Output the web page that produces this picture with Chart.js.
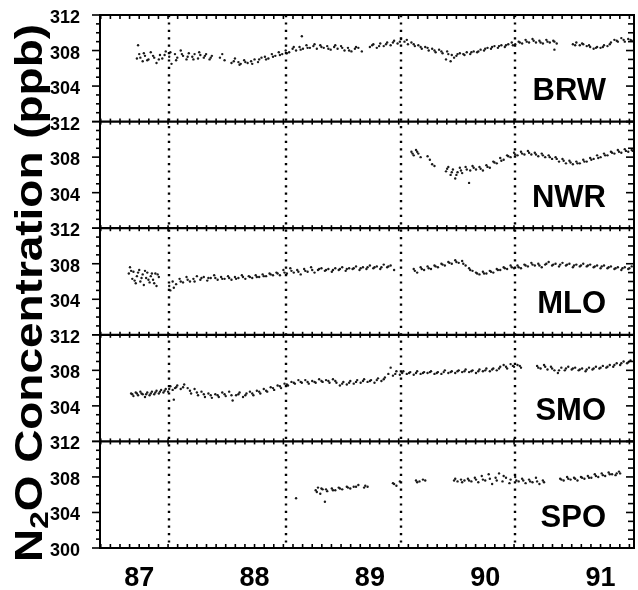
<!DOCTYPE html>
<html>
<head>
<meta charset="utf-8">
<script src="https://cdn.jsdelivr.net/npm/chart.js@4"></script>
<style>
  html, body { margin: 0; padding: 0; background: #fff; }
  canvas { display: block; }
</style>
</head>
<body>
<canvas id="n2oChart" width="638" height="590"></canvas>
<script>
// station names, top to bottom
const stations = ['BRW', 'NWR', 'MLO', 'SMO', 'SPO'];
const yearTicks = [87, 88, 89, 90, 91];
const ppbTicks = [300, 304, 308, 312];
const breakYears = [87.26, 88.27, 89.27, 90.26];

// [year, ppb]
const brw = [
  [86.98, 307.1], [86.99, 308.6], [87.00, 307.6], [87.03, 306.8], [87.05, 307.4], [87.08, 307.0], [87.10, 307.8],
  [87.13, 307.2], [87.15, 306.6], [87.18, 307.5], [87.20, 307.1], [87.23, 307.9], [87.26, 307.3], [87.28, 306.5],
  [87.31, 307.6], [87.33, 307.2], [87.36, 308.0], [87.38, 307.4], [87.41, 307.0], [87.43, 307.7], [87.46, 307.3],
  [87.48, 307.6], [87.51, 307.1], [87.53, 307.5], [87.56, 307.2], [87.58, 307.6], [87.61, 307.0], [87.63, 307.4],
  [87.70, 307.2], [87.72, 307.6], [87.74, 306.9],
  [87.80, 306.6], [87.83, 307.1], [87.86, 306.7], [87.88, 306.5], [87.91, 306.9], [87.94, 306.6], [87.97, 306.8],
  [88.00, 307.0], [88.03, 306.7], [88.06, 307.2], [88.09, 307.3], [88.12, 307.1], [88.15, 307.6], [88.18, 307.4],
  [88.21, 307.8], [88.24, 307.6], [88.27, 308.0], [88.30, 307.8], [88.33, 308.2], [88.36, 308.0], [88.39, 308.4],
  [88.41, 309.6], [88.42, 308.2], [88.45, 308.6], [88.48, 308.3], [88.51, 308.5], [88.54, 308.2], [88.57, 308.6],
  [88.60, 308.3], [88.63, 308.5], [88.66, 308.1], [88.69, 308.4], [88.72, 308.2], [88.75, 308.5], [88.78, 308.0],
  [88.81, 308.3], [88.84, 307.9], [88.87, 308.2], [88.90, 308.3], [88.93, 307.9],
  [89.00, 308.4], [89.03, 308.7], [89.06, 308.3], [89.09, 308.8], [89.12, 308.5], [89.15, 308.9], [89.18, 308.6],
  [89.21, 309.1], [89.24, 308.8], [89.27, 309.3], [89.30, 309.0], [89.33, 308.7], [89.36, 308.9], [89.39, 308.5],
  [89.42, 308.6], [89.45, 308.2], [89.48, 308.4], [89.51, 308.0], [89.54, 308.2], [89.57, 307.8], [89.60, 308.1],
  [89.63, 307.7], [89.66, 307.0], [89.67, 307.9], [89.70, 306.8], [89.71, 307.5], [89.73, 307.2], [89.75, 307.4],
  [89.78, 307.7], [89.81, 307.6], [89.84, 307.8], [89.87, 307.6], [89.90, 307.9], [89.93, 307.8], [89.96, 308.1],
  [89.99, 308.0], [90.02, 308.3], [90.05, 308.2], [90.08, 308.5], [90.11, 308.3], [90.14, 308.6], [90.17, 308.4],
  [90.20, 308.7], [90.23, 308.9], [90.26, 308.7], [90.29, 309.0], [90.32, 308.8], [90.35, 309.2], [90.38, 308.9],
  [90.41, 309.3], [90.44, 308.9], [90.47, 309.1], [90.50, 308.8], [90.53, 309.2], [90.56, 308.9], [90.59, 309.1],
  [90.60, 308.1], [90.62, 308.8],
  [90.76, 308.7], [90.79, 308.9], [90.82, 308.6], [90.85, 308.7], [90.88, 308.5], [90.91, 308.4], [90.94, 308.2],
  [90.97, 308.4], [91.00, 308.3], [91.03, 308.6], [91.06, 308.5], [91.09, 308.9], [91.12, 309.2], [91.15, 309.0],
  [91.18, 309.4], [91.21, 309.0], [91.24, 309.3], [91.27, 309.1],
  [87.01, 307.2], [87.04, 307.7], [87.07, 306.9], [87.12, 307.4], [87.17, 307.0], [87.22, 307.5], [87.27, 307.8],
  [87.32, 306.9], [87.37, 307.6], [87.42, 307.3], [87.47, 307.0], [87.52, 307.8], [87.57, 307.4], [87.62, 307.2],
  [87.82, 306.8], [87.87, 306.4], [87.92, 306.7], [87.98, 306.5], [88.04, 307.0], [88.10, 307.0], [88.16, 307.3],
  [88.22, 307.5], [88.28, 307.7], [88.34, 308.4], [88.40, 308.1], [88.46, 308.3], [88.52, 308.7], [88.58, 308.4],
  [88.64, 308.2], [88.70, 308.6], [88.76, 308.3], [88.82, 308.0], [88.88, 308.4],
  [89.02, 308.6], [89.08, 308.5], [89.14, 308.7], [89.20, 308.9], [89.26, 309.0], [89.32, 309.2], [89.38, 308.7],
  [89.44, 308.4], [89.50, 308.3], [89.56, 308.0], [89.62, 307.9], [89.68, 307.6], [89.76, 307.6], [89.82, 307.5],
  [89.88, 307.8], [89.94, 307.9], [90.00, 308.2], [90.06, 308.4], [90.12, 308.5], [90.18, 308.6], [90.24, 308.6],
  [90.30, 308.9], [90.36, 309.0], [90.42, 309.1], [90.48, 308.9], [90.54, 309.0], [90.60, 309.0],
  [90.78, 308.6], [90.84, 308.8], [90.90, 308.6], [90.96, 308.3], [91.02, 308.4], [91.08, 308.7], [91.14, 309.1],
  [91.20, 309.2], [91.26, 309.2]
];

const nwr = [
  [89.36, 308.6], [89.38, 308.2], [89.40, 308.8], [89.42, 308.4], [89.44, 308.0],
  [89.50, 308.1], [89.52, 307.7], [89.54, 307.2], [89.56, 307.0],
  [89.66, 306.4], [89.68, 306.9], [89.70, 306.0], [89.72, 306.6], [89.74, 305.6], [89.76, 306.3], [89.78, 306.8],
  [89.80, 306.2], [89.83, 306.9], [89.86, 305.1], [89.87, 306.5], [89.89, 307.0], [89.92, 306.6], [89.95, 306.9],
  [89.98, 306.5], [90.01, 307.1], [90.04, 306.8], [90.07, 307.5], [90.10, 307.3], [90.13, 307.9], [90.16, 307.7],
  [90.19, 308.2], [90.22, 308.0], [90.25, 308.5], [90.28, 308.2], [90.31, 308.6], [90.34, 308.3], [90.37, 308.7],
  [90.40, 308.3], [90.43, 308.5], [90.46, 308.1], [90.49, 308.4], [90.52, 308.0], [90.55, 308.2], [90.58, 307.8],
  [90.61, 308.0], [90.64, 307.5], [90.67, 307.8], [90.70, 307.3], [90.73, 307.6], [90.76, 307.2], [90.79, 307.5],
  [90.82, 307.3], [90.85, 307.7], [90.88, 307.5], [90.91, 307.9], [90.94, 307.8], [90.97, 308.2], [91.00, 308.0],
  [91.03, 308.4], [91.06, 308.2], [91.09, 308.6], [91.12, 308.4], [91.15, 308.8], [91.18, 308.5], [91.21, 308.9],
  [91.24, 308.6], [91.27, 308.8],
  [89.37, 308.4], [89.41, 308.6], [89.67, 306.7], [89.71, 306.3], [89.75, 306.0], [89.79, 306.5], [89.84, 306.6],
  [89.90, 306.8], [89.96, 306.7], [90.02, 306.9], [90.08, 307.4], [90.14, 307.6], [90.20, 308.1], [90.26, 308.3],
  [90.32, 308.4], [90.38, 308.5], [90.44, 308.3], [90.50, 308.2], [90.56, 308.0], [90.62, 307.8], [90.68, 307.6],
  [90.74, 307.4], [90.80, 307.3], [90.86, 307.5], [90.92, 307.7], [90.98, 307.9], [91.04, 308.2], [91.10, 308.5],
  [91.16, 308.6], [91.22, 308.7], [91.28, 308.7]
];

const mlo = [
  [86.91, 306.9], [86.92, 307.6], [86.94, 306.3], [86.95, 307.1], [86.97, 305.8], [86.98, 306.6], [87.00, 307.3],
  [87.01, 306.0], [87.03, 306.8], [87.04, 305.6], [87.06, 306.4], [87.07, 307.0], [87.09, 305.9], [87.10, 306.6],
  [87.12, 306.2], [87.14, 306.9], [87.15, 305.5], [87.17, 306.5],
  [87.26, 305.5], [87.27, 305.0], [87.29, 306.0], [87.32, 305.7], [87.35, 306.3], [87.38, 305.9], [87.41, 306.5],
  [87.44, 306.0], [87.47, 306.3], [87.50, 306.6], [87.53, 306.2], [87.56, 306.5], [87.59, 306.1], [87.62, 306.4],
  [87.65, 306.7], [87.68, 306.2], [87.71, 306.5], [87.74, 306.3], [87.77, 306.6], [87.80, 306.2], [87.83, 306.5],
  [87.86, 306.4], [87.89, 306.7], [87.92, 306.3], [87.95, 306.6], [87.98, 306.4], [88.01, 306.7], [88.04, 306.5],
  [88.07, 306.8], [88.10, 306.6], [88.13, 306.9], [88.16, 306.7], [88.19, 307.0], [88.22, 306.7], [88.25, 307.3],
  [88.28, 306.9], [88.31, 307.5], [88.34, 307.0], [88.37, 307.3], [88.40, 306.8], [88.43, 307.4], [88.46, 307.1],
  [88.49, 307.6], [88.52, 307.0], [88.55, 307.3], [88.58, 307.5], [88.61, 307.2], [88.64, 307.4], [88.67, 307.1],
  [88.70, 307.5], [88.73, 307.3], [88.76, 307.6], [88.79, 307.2], [88.82, 307.5], [88.85, 307.4], [88.88, 307.7],
  [88.91, 307.3], [88.94, 307.6], [88.97, 307.4], [89.00, 307.8], [89.03, 307.5], [89.06, 307.7], [89.09, 307.4],
  [89.12, 307.9], [89.15, 307.6], [89.18, 307.8], [89.21, 307.3],
  [89.38, 307.4], [89.41, 307.0], [89.44, 307.6], [89.47, 307.3], [89.50, 307.7], [89.53, 307.4], [89.56, 307.8],
  [89.59, 307.6], [89.62, 308.0], [89.65, 307.8], [89.68, 308.2], [89.71, 308.0], [89.74, 308.4], [89.77, 308.1],
  [89.80, 308.3], [89.83, 307.8], [89.86, 307.5], [89.89, 307.2], [89.92, 307.0], [89.95, 306.8], [89.98, 307.1],
  [90.01, 306.9], [90.04, 307.2], [90.07, 307.0], [90.10, 307.4], [90.13, 307.3], [90.16, 307.6], [90.19, 307.4],
  [90.22, 307.8], [90.25, 307.5], [90.28, 307.8], [90.31, 307.5], [90.34, 307.9], [90.37, 307.7], [90.40, 308.1],
  [90.43, 307.8], [90.46, 308.0], [90.49, 307.6], [90.52, 307.9], [90.55, 308.2], [90.58, 307.8], [90.61, 308.0],
  [90.64, 307.7], [90.67, 308.1], [90.70, 307.8], [90.73, 308.0], [90.76, 307.6], [90.79, 307.9], [90.82, 307.7],
  [90.85, 308.0], [90.88, 307.7], [90.91, 307.9], [90.94, 307.6], [90.97, 307.8], [91.00, 307.5], [91.03, 307.8],
  [91.06, 307.5], [91.09, 307.7], [91.12, 307.4], [91.15, 307.6], [91.18, 307.3], [91.21, 307.6], [91.24, 307.4],
  [91.27, 307.7],
  [86.93, 307.2], [86.96, 306.1], [86.99, 307.0], [87.02, 306.4], [87.05, 307.2], [87.08, 306.2], [87.11, 306.9],
  [87.13, 305.8], [87.16, 306.8],
  [87.30, 305.3], [87.36, 306.0], [87.42, 306.2], [87.48, 306.0], [87.54, 306.4], [87.60, 306.4], [87.66, 306.4],
  [87.72, 306.3], [87.78, 306.4], [87.84, 306.3], [87.90, 306.5], [87.96, 306.5], [88.02, 306.5], [88.08, 306.6],
  [88.14, 306.8], [88.20, 306.9], [88.26, 307.0], [88.32, 307.2], [88.38, 307.1], [88.44, 307.2], [88.50, 307.3],
  [88.56, 307.4], [88.62, 307.3], [88.68, 307.3], [88.74, 307.4], [88.80, 307.4], [88.86, 307.5], [88.92, 307.5],
  [88.98, 307.6], [89.04, 307.6], [89.10, 307.6], [89.16, 307.7],
  [89.39, 307.2], [89.45, 307.4], [89.51, 307.5], [89.57, 307.7], [89.63, 307.9], [89.69, 308.1], [89.75, 308.2],
  [89.81, 308.0], [89.87, 307.3], [89.93, 306.9], [89.99, 306.9], [90.05, 307.1], [90.11, 307.3], [90.17, 307.5],
  [90.23, 307.6], [90.29, 307.6], [90.35, 307.8], [90.41, 307.9], [90.47, 307.8], [90.53, 308.0], [90.59, 307.9],
  [90.65, 307.9], [90.71, 307.9], [90.77, 307.8], [90.83, 307.8], [90.89, 307.8], [90.95, 307.7], [91.01, 307.7],
  [91.07, 307.6], [91.13, 307.5], [91.19, 307.5], [91.25, 307.5]
];

const smo = [
  [86.93, 305.4], [86.95, 305.1], [86.97, 305.5], [86.99, 305.2], [87.01, 305.6], [87.03, 305.3], [87.05, 305.0],
  [87.07, 305.5], [87.09, 305.2], [87.11, 305.6], [87.13, 305.3], [87.15, 305.7], [87.17, 305.4], [87.19, 305.8],
  [87.21, 305.5], [87.23, 305.9], [87.25, 305.6], [87.27, 306.2], [87.29, 305.8], [87.30, 304.7], [87.31, 306.0],
  [87.33, 306.3], [87.36, 305.9], [87.39, 306.4], [87.42, 306.0], [87.45, 305.4], [87.48, 305.9], [87.51, 305.2],
  [87.54, 305.6], [87.57, 305.0], [87.60, 305.4], [87.63, 304.9], [87.66, 305.3], [87.69, 305.0], [87.72, 305.5],
  [87.75, 305.1], [87.78, 305.6], [87.81, 304.6], [87.84, 305.2], [87.87, 305.5], [87.90, 305.0], [87.93, 305.4],
  [87.96, 305.6], [87.99, 305.2], [88.02, 305.7], [88.05, 305.4], [88.08, 305.9], [88.11, 305.6], [88.14, 306.1],
  [88.17, 305.8], [88.20, 306.3], [88.23, 306.0], [88.26, 306.5], [88.29, 306.3], [88.32, 306.7], [88.35, 306.5],
  [88.38, 306.9], [88.41, 306.6], [88.44, 306.9], [88.47, 306.5], [88.50, 306.8], [88.53, 306.6], [88.56, 307.0],
  [88.59, 306.7], [88.62, 306.9], [88.65, 306.6], [88.68, 307.0], [88.71, 306.6], [88.74, 306.3], [88.77, 306.7],
  [88.80, 306.4], [88.83, 306.8], [88.86, 306.5], [88.89, 306.9], [88.92, 306.6], [88.95, 307.0], [88.98, 306.7],
  [89.01, 306.9], [89.04, 306.6], [89.07, 307.1], [89.10, 306.8], [89.13, 307.2], [89.16, 307.6], [89.18, 308.3],
  [89.20, 307.4], [89.23, 307.9], [89.26, 307.5], [89.29, 307.9], [89.32, 307.6], [89.35, 307.8], [89.38, 307.5],
  [89.41, 307.9], [89.44, 307.6], [89.47, 307.8], [89.50, 307.7], [89.53, 307.9], [89.56, 307.6], [89.59, 307.8],
  [89.62, 307.6], [89.65, 308.0], [89.68, 307.7], [89.71, 307.9], [89.74, 307.7], [89.77, 308.0], [89.80, 307.8],
  [89.83, 308.1], [89.86, 307.8], [89.89, 308.0], [89.92, 307.7], [89.95, 308.1], [89.98, 307.9], [90.01, 308.2],
  [90.04, 307.9], [90.07, 308.2], [90.10, 308.0], [90.13, 308.4], [90.16, 308.6], [90.19, 308.2], [90.22, 308.7],
  [90.25, 308.4], [90.28, 308.6], [90.31, 308.3],
  [90.45, 308.5], [90.48, 308.2], [90.51, 308.6], [90.54, 308.1], [90.57, 308.4], [90.60, 308.0], [90.63, 307.7],
  [90.66, 308.3], [90.69, 308.0], [90.72, 308.4], [90.75, 308.1], [90.78, 308.3], [90.81, 308.0], [90.84, 308.2],
  [90.87, 307.9], [90.90, 308.3], [90.93, 308.1], [90.96, 308.4], [90.99, 308.2], [91.02, 308.5], [91.05, 308.3],
  [91.08, 308.6], [91.11, 308.4], [91.14, 308.8], [91.17, 308.6], [91.20, 309.0], [91.23, 308.8], [91.26, 309.1],
  [86.94, 305.3], [86.98, 305.4], [87.02, 305.4], [87.06, 305.3], [87.10, 305.4], [87.14, 305.5], [87.18, 305.6],
  [87.22, 305.7], [87.26, 305.9], [87.32, 306.1], [87.38, 306.1], [87.44, 305.7], [87.50, 305.5], [87.56, 305.3],
  [87.62, 305.2], [87.68, 305.2], [87.74, 305.3], [87.80, 305.2], [87.86, 305.3], [87.92, 305.2], [87.98, 305.4],
  [88.04, 305.6], [88.10, 305.7], [88.16, 306.0], [88.22, 306.2], [88.28, 306.4], [88.34, 306.6], [88.40, 306.7],
  [88.46, 306.7], [88.52, 306.7], [88.58, 306.8], [88.64, 306.8], [88.70, 306.8], [88.76, 306.5], [88.82, 306.6],
  [88.88, 306.7], [88.94, 306.8], [89.00, 306.8], [89.06, 306.9], [89.12, 307.0],
  [89.22, 307.6], [89.28, 307.7], [89.34, 307.7], [89.40, 307.7], [89.46, 307.7], [89.52, 307.8], [89.58, 307.7],
  [89.64, 307.8], [89.70, 307.8], [89.76, 307.9], [89.82, 307.9], [89.88, 307.9], [89.94, 307.9], [90.00, 308.0],
  [90.06, 308.1], [90.12, 308.2], [90.18, 308.4], [90.24, 308.5], [90.30, 308.5],
  [90.46, 308.3], [90.52, 308.4], [90.58, 308.2], [90.64, 308.0], [90.70, 308.2], [90.76, 308.2], [90.82, 308.1],
  [90.88, 308.1], [90.94, 308.2], [91.00, 308.3], [91.06, 308.4], [91.12, 308.6], [91.18, 308.8], [91.24, 308.9]
];

const spo = [
  [88.36, 305.6], [88.53, 306.5], [88.55, 306.8], [88.57, 306.1], [88.59, 306.6], [88.61, 305.2], [88.63, 306.4],
  [88.67, 306.7], [88.70, 306.5], [88.73, 306.8], [88.76, 306.6], [88.80, 306.9], [88.83, 306.7], [88.86, 306.9],
  [88.90, 307.1], [88.95, 306.8], [88.98, 306.9],
  [89.20, 307.3], [89.23, 307.0], [89.26, 307.5],
  [89.40, 307.6], [89.43, 307.5], [89.48, 307.6],
  [89.73, 307.6], [89.76, 307.5], [89.79, 307.7], [89.82, 307.6], [89.85, 307.8], [89.88, 307.5], [89.91, 307.9],
  [89.94, 307.4], [89.97, 308.1], [90.00, 307.6], [90.03, 308.3], [90.06, 307.2], [90.09, 307.9], [90.12, 308.4],
  [90.15, 307.5], [90.18, 307.9], [90.21, 307.3],
  [90.26, 308.0], [90.29, 307.5], [90.32, 307.8], [90.35, 307.3], [90.38, 307.7], [90.41, 307.4], [90.44, 307.9],
  [90.47, 307.2], [90.50, 307.6],
  [90.65, 307.8], [90.68, 307.6], [90.71, 308.0], [90.74, 307.7], [90.77, 307.9], [90.80, 307.6], [90.83, 308.0],
  [90.86, 307.8], [90.89, 308.1], [90.92, 307.9], [90.95, 308.3], [90.98, 308.0], [91.01, 308.4], [91.04, 308.1],
  [91.07, 308.5], [91.10, 308.3], [91.13, 308.2], [91.17, 308.4],
  [88.54, 306.3], [88.58, 306.7], [88.62, 306.6], [88.68, 306.5], [88.74, 306.7], [88.81, 306.8], [88.88, 306.9],
  [88.96, 307.0], [89.21, 307.2], [89.41, 307.4], [89.46, 307.7],
  [89.74, 307.8], [89.80, 307.4], [89.86, 307.6], [89.92, 307.7], [89.98, 307.7], [90.04, 307.8], [90.10, 307.6],
  [90.16, 308.1], [90.22, 307.7],
  [90.27, 307.6], [90.33, 307.6], [90.39, 307.5], [90.45, 307.5], [90.51, 307.4],
  [90.66, 307.7], [90.72, 307.8], [90.78, 307.8], [90.84, 307.9], [90.90, 307.9], [90.96, 308.1], [91.02, 308.2],
  [91.08, 308.3], [91.14, 308.4], [91.16, 308.6]
];

const stationData = [brw, nwr, mlo, smo, spo];

const FONT = '"Liberation Sans", Arial, Helvetica, sans-serif';
Chart.defaults.font.family = FONT;
Chart.defaults.color = '#000';

const panelIds = stations.map(s => 'y' + s);

// one stacked y axis per station; left boxes are laid out last-first, so build them bottom-up
const scales = {
  x: {
    type: 'linear',
    position: 'bottom',
    min: 86.66,
    max: 91.29,
    grid: { display: false },
    border: { display: false },
    ticks: {
      font: { size: 27, weight: 'bold' },
      padding: 6,
      maxRotation: 0,
      autoSkip: false,
      callback: v => String(v)
    },
    afterBuildTicks: axis => { axis.ticks = yearTicks.map(v => ({ value: v })); },
    afterFit: axis => { axis.height = 42; axis.paddingLeft = 0; axis.paddingRight = 0; }
  }
};
panelIds.slice().reverse().forEach((id, k) => {
  const isBottom = k === 0;
  scales[id] = {
    type: 'linear',
    position: 'left',
    stack: 'n2o',
    stackWeight: 1,
    min: 300,
    max: 312,
    grid: { display: false },
    border: { display: false },
    ticks: {
      font: { size: 18, weight: 'bold' },
      padding: 12,
      labelOffset: 3,
      autoSkip: false
    },
    afterBuildTicks: axis => {
      const vals = isBottom ? ppbTicks : ppbTicks.slice(1);
      axis.ticks = vals.map(v => ({ value: v }));
    },
    afterFit: axis => {
      axis.width = 100;
      axis.paddingTop = 0;
      axis.paddingBottom = 0;
    }
  };
});

function seg(ctx, x1, y1, x2, y2) {
  ctx.beginPath();
  ctx.moveTo(x1, y1);
  ctx.lineTo(x2, y2);
  ctx.stroke();
}

// frame, panel separators, tick marks, dotted year lines, station names, axis title
const framePlugin = {
  id: 'frame',
  afterDatasetsDraw(chart) {
    const { ctx, chartArea: a } = chart;
    const xs = chart.scales.x;
    ctx.save();
    ctx.strokeStyle = '#000';

    // dotted vertical lines
    ctx.lineWidth = 2.4;
    ctx.setLineDash([2.2, 5.2]);
    breakYears.forEach(t => {
      const px = Math.round(xs.getPixelForValue(t));
      seg(ctx, px, a.top, px, a.bottom);
    });
    ctx.setLineDash([]);

    // outer left / right lines
    ctx.lineWidth = 2;
    seg(ctx, a.left, a.top - 1, a.left, a.bottom + 1);
    seg(ctx, a.right, a.top - 1, a.right, a.bottom + 1);

    panelIds.forEach(id => {
      const s = chart.scales[id];
      // left ticks (outward) and right ticks (inward), every 1 ppb
      ctx.lineWidth = 1.6;
      for (let v = 300; v <= 312; v++) {
        const py = s.getPixelForValue(v);
        const major = v % 4 === 0;
        seg(ctx, a.left - (major ? 8 : 4), py, a.left, py);
        seg(ctx, a.right, py, a.right - (major ? 8 : 6), py);
      }
    });

    // horizontal panel boundaries with monthly ticks
    const bounds = [chart.scales[panelIds[0]].top].concat(panelIds.map(id => chart.scales[id].bottom));
    bounds.forEach((by, j) => {
      ctx.lineWidth = 2.2;
      seg(ctx, a.left, by, a.right, by);
      ctx.lineWidth = 1.6;
      const isTop = j === 0;
      const isBot = j === bounds.length - 1;
      for (let m = Math.ceil(xs.min * 12); m <= Math.floor(xs.max * 12); m++) {
        const px = xs.getPixelForValue(m / 12);
        seg(ctx, px, isTop ? by : by - (isBot ? 4 : 3), px, isBot ? by : by + (isTop ? 4 : 3));
      }
    });

    // station names
    ctx.fillStyle = '#000';
    ctx.font = 'bold 31px ' + FONT;
    ctx.textAlign = 'right';
    ctx.textBaseline = 'middle';
    panelIds.forEach((id, i) => {
      const s = chart.scales[id];
      ctx.fillText(stations[i], a.right - 28, s.bottom - 30);
    });

    // y axis title with subscript 2, stretched along its length like the original lettering
    const big = 'bold 38px ' + FONT;
    const small = 'bold 26px ' + FONT;
    const rest = 'O Concentration (ppb)';
    ctx.font = big;
    const wN = ctx.measureText('N').width;
    const wRest = ctx.measureText(rest).width;
    ctx.font = small;
    const w2 = ctx.measureText('2').width;
    const total = wN + w2 + wRest;
    const stretch = 538 / total;
    ctx.translate(42, 293);
    ctx.rotate(-Math.PI / 2);
    ctx.scale(stretch, 1);
    ctx.textBaseline = 'alphabetic';
    ctx.textAlign = 'left';
    let tx = -total / 2;
    ctx.font = big;
    ctx.fillText('N', tx, 0);
    tx += wN;
    ctx.font = small;
    ctx.fillText('2', tx, 6);
    tx += w2;
    ctx.font = big;
    ctx.fillText(rest, tx, 0);
    ctx.restore();
  }
};

const ctx = document.getElementById('n2oChart').getContext('2d');
const n2oChart = new Chart(ctx, {
  type: 'scatter',
  data: {
    datasets: stations.map((s, i) => ({
      label: s,
      data: stationData[i].map(p => ({ x: p[0], y: p[1] })),
      xAxisID: 'x',
      yAxisID: panelIds[i],
      pointRadius: 1.2,
      pointBackgroundColor: '#1a1a1a',
      pointBorderWidth: 0
    }))
  },
  options: {
    responsive: false,
    animation: false,
    layout: { padding: { left: 0, right: 2, top: 15, bottom: 0 } },
    plugins: {
      legend: { display: false },
      tooltip: { enabled: false }
    },
    scales: scales
  },
  plugins: [framePlugin]
});
</script>
</body>
</html>
